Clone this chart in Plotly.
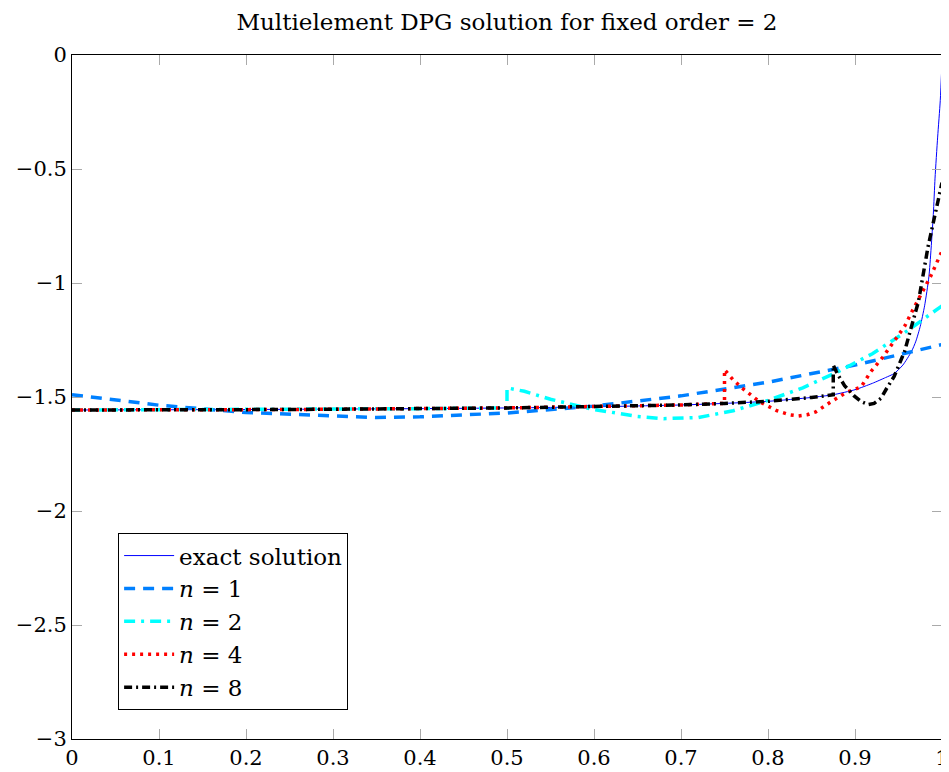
import plotly.graph_objects as go

# ---- data ----
exact_x = [0.0, 0.1, 0.2, 0.3, 0.4, 0.5, 0.6, 0.7, 0.75, 0.8, 0.85, 0.875, 0.9, 0.92, 0.935,
           0.945, 0.955, 0.965, 0.97, 0.975, 0.98, 0.985, 0.99, 0.992, 0.995, 0.998, 1.0]
exact_y = [-1.557, -1.556, -1.555, -1.553, -1.551, -1.548, -1.543, -1.535, -1.528, -1.519,
           -1.502, -1.490, -1.468, -1.440, -1.415, -1.397, -1.360, -1.300, -1.255, -1.190,
           -1.100, -0.970, -0.700, -0.540, -0.360, -0.200, -0.030]

n1_x = [0.0, 0.1, 0.2, 0.3, 0.35, 0.4, 0.5, 0.6, 0.7, 0.8, 0.9, 1.0]
n1_y = [-1.490, -1.536, -1.568, -1.585, -1.590, -1.587, -1.570, -1.540, -1.495, -1.435, -1.360, -1.270]

n2_x = [0.0, 0.1, 0.2, 0.3, 0.4, 0.5, 0.5, 0.52, 0.55, 0.6, 0.65, 0.68, 0.72, 0.76, 0.8,
        0.84, 0.88, 0.92, 0.96, 1.0]
n2_y = [-1.557, -1.556, -1.555, -1.553, -1.551, -1.548, -1.460, -1.475, -1.510, -1.555,
        -1.585, -1.595, -1.590, -1.560, -1.515, -1.460, -1.390, -1.310, -1.210, -1.100]

n4_x = [0.0, 0.25, 0.5, 0.6, 0.7, 0.75, 0.75, 0.76, 0.77, 0.79, 0.81, 0.825, 0.835, 0.845,
        0.855, 0.872, 0.89, 0.907, 0.918, 0.932, 0.945, 0.957, 0.967, 0.987, 1.0]
n4_y = [-1.557, -1.555, -1.548, -1.543, -1.535, -1.528, -1.380, -1.425, -1.460, -1.520,
        -1.560, -1.578, -1.583, -1.578, -1.565, -1.522, -1.480, -1.456, -1.390, -1.325,
        -1.253, -1.190, -1.114, -0.970, -0.860]

n8_x = [0.0, 0.25, 0.5, 0.6, 0.7, 0.75, 0.8, 0.85, 0.875, 0.875, 0.88, 0.888, 0.899, 0.907,
        0.915, 0.922, 0.93, 0.936, 0.945, 0.957, 0.965, 0.973, 0.984, 0.993, 1.0]
n8_y = [-1.557, -1.555, -1.548, -1.543, -1.535, -1.528, -1.519, -1.502, -1.490, -1.360,
        -1.400, -1.450, -1.495, -1.520, -1.533, -1.528, -1.505, -1.465, -1.410, -1.300,
        -1.190, -1.080, -0.840, -0.675, -0.560]

x_ticks = [0, 0.1, 0.2, 0.3, 0.4, 0.5, 0.6, 0.7, 0.8, 0.9, 1]
x_tick_labels = ["0", "0.1", "0.2", "0.3", "0.4", "0.5", "0.6", "0.7", "0.8", "0.9", "1"]
y_ticks = [0, -0.5, -1, -1.5, -2, -2.5, -3]
y_tick_labels = ["0", "\u22120.5", "\u22121", "\u22121.5", "\u22122", "\u22122.5", "\u22123"]

FONT = "DejaVu Serif"

fig = go.Figure()
fig.add_trace(go.Scatter(x=exact_x, y=exact_y, mode="lines", name="exact solution",
                         line=dict(color="rgb(0,0,255)", width=1, shape="spline", smoothing=0.6)))
fig.add_trace(go.Scatter(x=n1_x, y=n1_y, mode="lines", name="<i>n</i> = 1",
                         line=dict(color="rgb(0,128,255)", width=3.5, dash="11px,8px")))
fig.add_trace(go.Scatter(x=n2_x, y=n2_y, mode="lines", name="<i>n</i> = 2",
                         line=dict(color="rgb(0,255,255)", width=3.5, dash="11px,6px,3px,6px")))
fig.add_trace(go.Scatter(x=n4_x, y=n4_y, mode="lines", name="<i>n</i> = 4",
                         line=dict(color="rgb(255,0,0)", width=3.5, dash="3px,5px")))
fig.add_trace(go.Scatter(x=n8_x, y=n8_y, mode="lines", name="<i>n</i> = 8",
                         line=dict(color="black", width=3.5, dash="8px,4px,2px,4px")))

fig.update_layout(
    width=941, height=764,
    margin=dict(l=64, r=7, t=47, b=33, autoexpand=False),
    paper_bgcolor="white", plot_bgcolor="white",
    font=dict(family=FONT, size=21, color="black"),
    title=dict(text="Multielement DPG solution for fixed order = 2", xref="paper", x=0.5,
               xanchor="center", yref="container", y=0.9817, yanchor="middle",
               font=dict(family=FONT, size=23)),
    showlegend=True,
    legend=dict(x=0.053, y=0.301, xanchor="left", yanchor="top",
                bordercolor="black", borderwidth=1, bgcolor="white", itemwidth=50,
                font=dict(family=FONT, size=23), tracegroupgap=0),
)
fig.update_xaxes(range=[0, 1], tickvals=x_ticks, ticktext=x_tick_labels, automargin=False,
                 showgrid=False, zeroline=False, showline=True, linecolor="black", linewidth=1,
                 mirror="allticks", ticks="inside", ticklen=10, tickcolor="#aaaaaa")
fig.update_yaxes(range=[-3, 0], tickvals=y_ticks, ticktext=y_tick_labels, automargin=False,
                 showgrid=False, zeroline=False, showline=True, linecolor="black", linewidth=1,
                 mirror="allticks", ticks="inside", ticklen=10, tickcolor="#aaaaaa")

fig.write_html("out.html")
